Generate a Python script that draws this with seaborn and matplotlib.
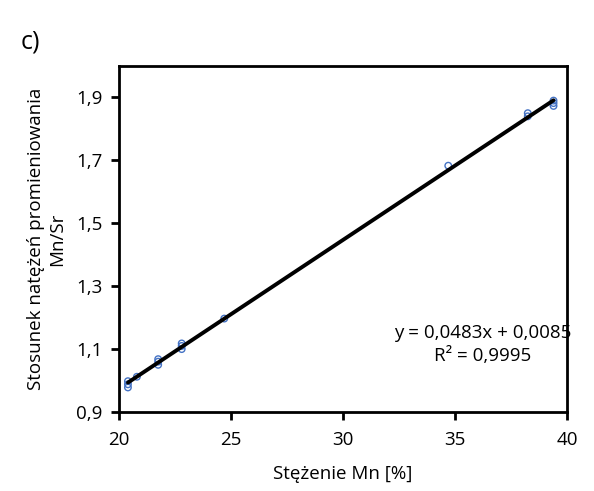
import numpy as np
import pandas as pd
import matplotlib
matplotlib.use("Agg")
import matplotlib.pyplot as plt
from matplotlib.ticker import FuncFormatter
import seaborn as sns

# Data
conc_mn = [20.4, 20.4, 20.4, 20.8, 21.75, 21.75, 21.75, 22.8, 22.8, 22.8,
           24.7, 34.7, 38.25, 38.25, 39.4, 39.4, 39.4]
ratio_mn_sr = [0.978, 0.988, 0.998, 1.012, 1.05, 1.06, 1.068, 1.10, 1.11, 1.118,
               1.197, 1.683, 1.84, 1.85, 1.873, 1.882, 1.89]
eq_text = "y = 0,0483x + 0,0085"
r2_text = "R² = 0,9995"
x_ticks = [20, 25, 30, 35, 40]
y_ticks = [0.9, 1.1, 1.3, 1.5, 1.7, 1.9]

sns.set_style("white")
plt.rcParams['font.family'] = ['Open Sans', 'DejaVu Sans']
plt.rcParams['text.color'] = 'black'
plt.rcParams['axes.labelcolor'] = 'black'
plt.rcParams['xtick.color'] = 'black'
plt.rcParams['ytick.color'] = 'black'

df = pd.DataFrame({"x": conc_mn, "y": ratio_mn_sr})
slope, intercept = np.polyfit(conc_mn, ratio_mn_sr, 1)
fit_x = [min(conc_mn), max(conc_mn)]
fit = pd.DataFrame({"x": fit_x, "y": [slope * v + intercept for v in fit_x]})

fig = plt.figure(figsize=(5.94, 4.91), dpi=100)
ax = fig.add_axes([0.2003, 0.1609, 0.7542, 0.7047])

sns.scatterplot(data=df, x="x", y="y", ax=ax, marker="o", s=22,
                facecolor="none", edgecolor="#4472C4", linewidth=1.0, zorder=2)
sns.lineplot(data=fit, x="x", y="y", ax=ax, color="black", linewidth=2.8, zorder=3)

ax.set_xlim(20, 40)
ax.set_ylim(0.9, 2.0)
ax.set_xticks(x_ticks)
ax.set_yticks(y_ticks)
ax.yaxis.set_major_formatter(FuncFormatter(lambda v, p: f"{v:.1f}".replace(".", ",")))
ax.xaxis.set_major_formatter(FuncFormatter(lambda v, p: f"{v:.0f}"))
for s in ax.spines.values():
    s.set_color("black")
    s.set_linewidth(2)
ax.tick_params(axis="both", direction="out", length=6, width=2, color="black",
               labelcolor="black", labelsize=13.5, bottom=True, left=True)
ax.tick_params(axis="y", pad=6)
ax.tick_params(axis="x", pad=8)

ax.set_xlabel("Stężenie Mn [%]", fontsize=13.5, labelpad=11, color="black")
ax.set_ylabel("Stosunek natężeń promieniowania\nMn/Sr", fontsize=13.5, labelpad=7,
              linespacing=1.2, color="black")

ax.text(0.8125, 0.195, eq_text + "\n" + r2_text, transform=ax.transAxes,
        ha="center", va="center", fontsize=13.5, linespacing=1.3, color="black")
fig.text(0.035, 0.915, "c)", fontsize=18, ha="left", va="center", color="black")

fig.savefig("out.png", dpi=100)
